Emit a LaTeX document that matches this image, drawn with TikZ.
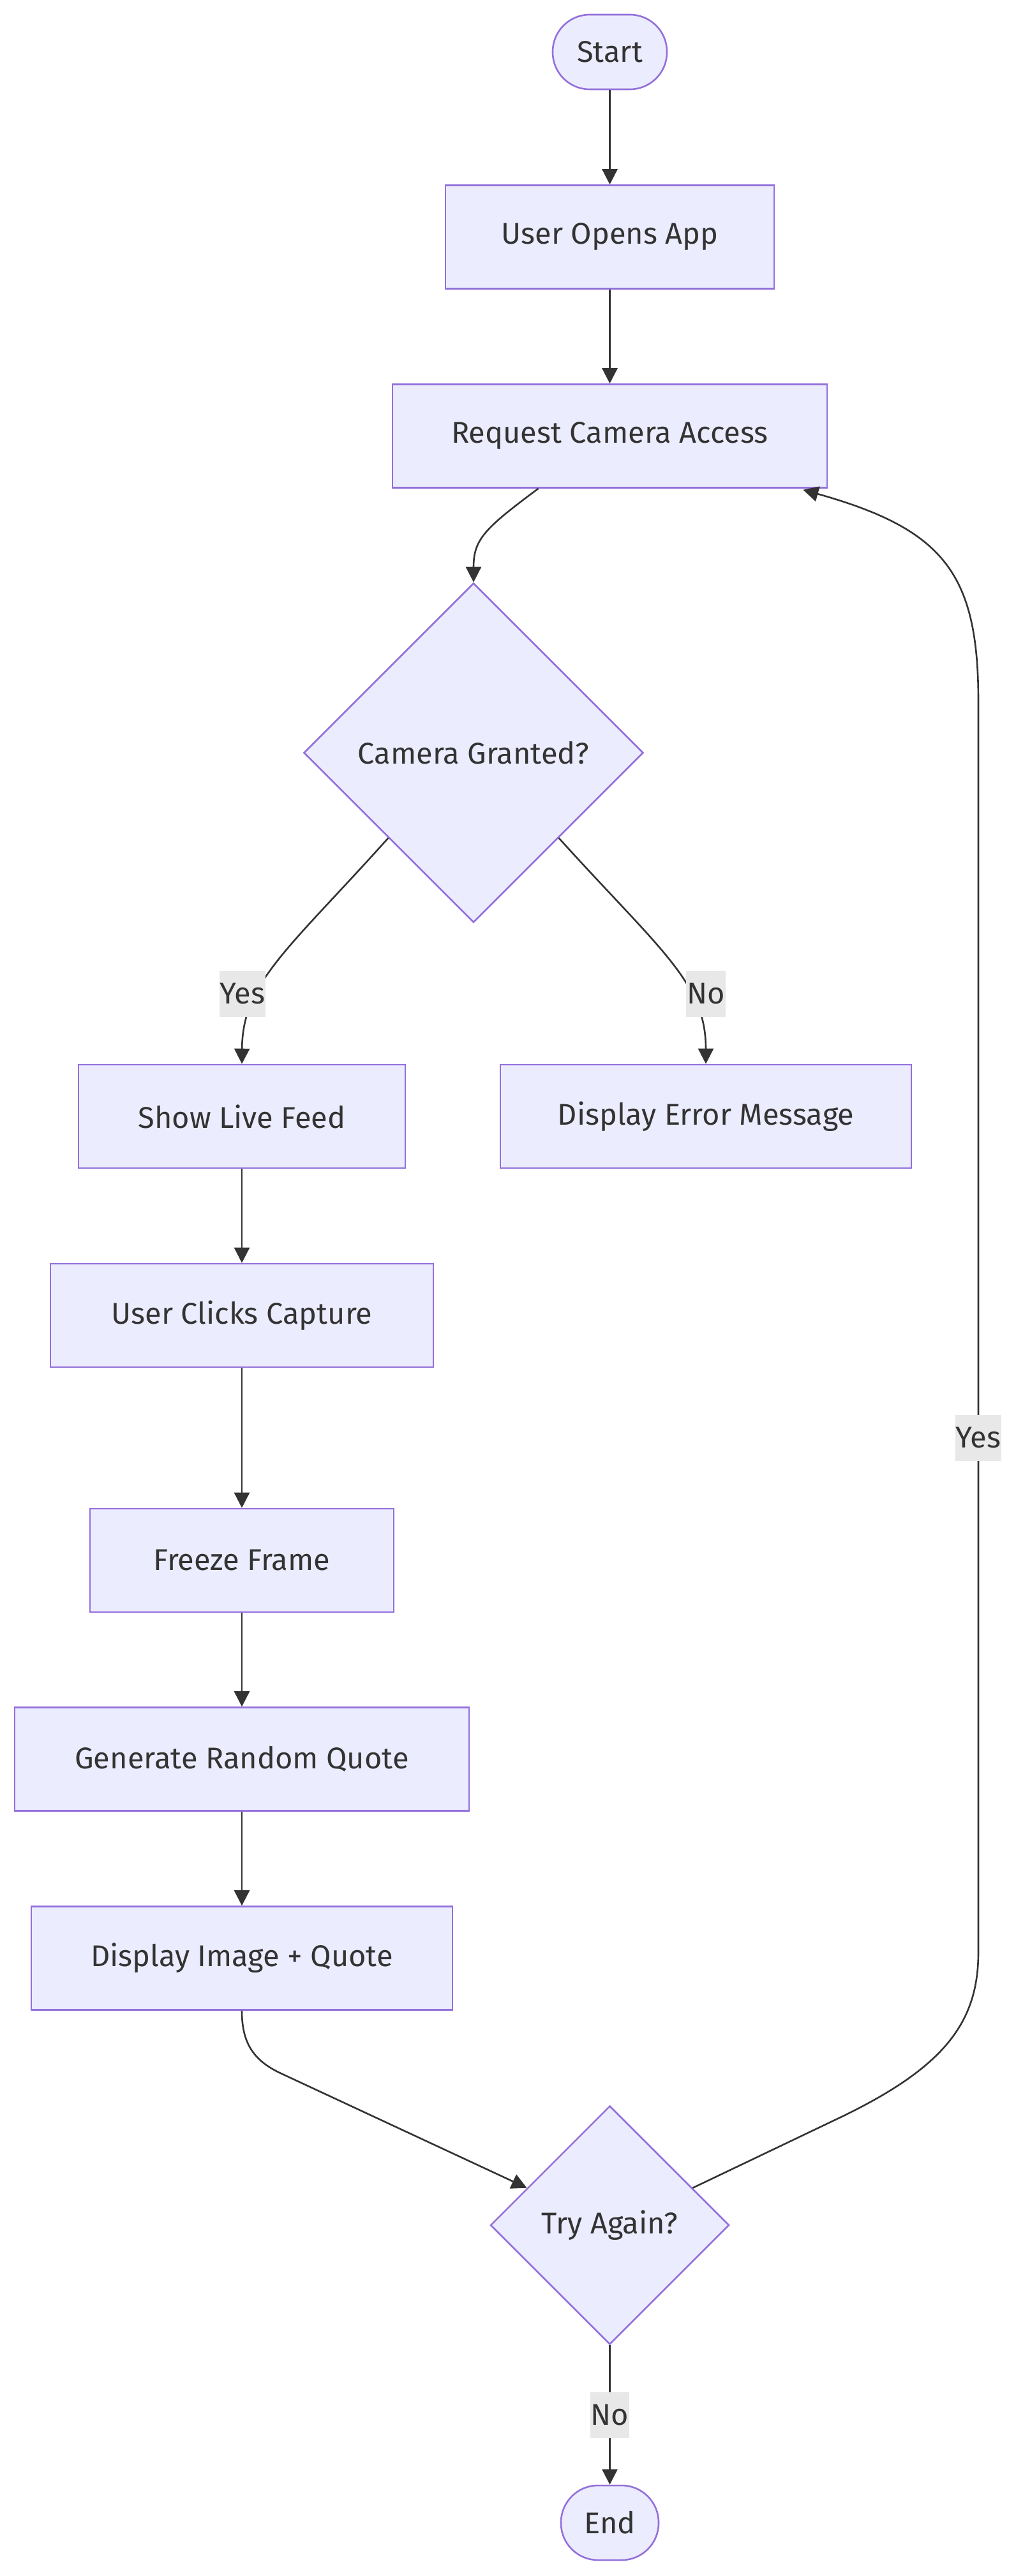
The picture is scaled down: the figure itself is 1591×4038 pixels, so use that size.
\documentclass[tikz,border=0pt]{standalone}
\usepackage{fontspec}
\setmainfont{Fira Sans}
\usetikzlibrary{shapes.geometric,arrows.meta,calc}
\definecolor{nodefill}{HTML}{ECECFF}
\definecolor{nodeline}{HTML}{9370DB}
\definecolor{edgecol}{HTML}{333333}
\definecolor{lblbg}{HTML}{E8E8E8}
\begin{document}
\begin{tikzpicture}[x=1pt,y=-1pt,
  every node/.style={font=\fontsize{47}{56}\selectfont, text=edgecol},
  box/.style={draw=nodeline, fill=nodefill, line width=2.6pt, minimum height=162pt, inner sep=0pt},
  term/.style={box, rounded corners=58pt, minimum height=117pt},
  decision/.style={draw=nodeline, fill=nodefill, line width=2.6pt, diamond, aspect=1, inner sep=0pt},
  flow/.style={draw=edgecol, line width=2.6pt, -{Triangle[length=24pt,width=24pt]}},
  lbl/.style={fill=lblbg, inner xsep=1pt, inner ysep=0pt, minimum height=72pt}
]
\useasboundingbox (0,0) rectangle (1591,4038);

\node[term, minimum width=179pt] (start) at (955.5,81.5) {Start};
\node[box, minimum width=515pt] (open) at (955.5,371.5) {User Opens App};
\node[box, minimum width=681pt] (req) at (955.5,683.5) {Request Camera Access};
\node[decision, minimum width=532pt, minimum height=532pt] (cam) at (742,1180) {Camera Granted?};
\node[box, minimum width=512pt] (live) at (379,1750) {Show Live Feed};
\node[box, minimum width=644pt] (err) at (1106,1750) {Display Error Message};
\node[box, minimum width=600pt] (click) at (379,2062) {User Clicks Capture};
\node[box, minimum width=476pt] (freeze) at (379,2446) {Freeze Frame};
\node[box, minimum width=712pt] (gen) at (379,2757.5) {Generate Random Quote};
\node[box, minimum width=660pt] (disp) at (379,3069.5) {Display Image + Quote};
\node[decision, minimum width=374pt, minimum height=374pt] (again) at (955.5,3488) {Try Again?};
\node[term, minimum width=153pt] (end) at (955.5,3954.5) {End};

\draw[flow] (start.south) -- (open.north);
\draw[flow] (open.south) -- (req.north);
\draw[flow] ($(req.south)+(-112,0)$) .. controls (760,828) and (742,845) .. (cam.north);
\draw[flow] (cam.south west) .. controls (450,1490) and (380,1540) .. (live.north);
\draw[flow] (cam.south east) .. controls (1035,1490) and (1106,1540) .. (err.north);
\draw[flow] (live.south) -- (click.north);
\draw[flow] (click.south) -- (freeze.north);
\draw[flow] (freeze.south) -- (gen.north);
\draw[flow] (gen.south) -- (disp.north);
\draw[flow] (disp.south) .. controls (379,3200) and (395,3229) .. (440,3250) -- ($(again.west)!0.31!(again.north)$);
\draw[flow] ($(again.east)!0.31!(again.north)$) -- (1319,3318) .. controls (1480,3240) and (1533,3170) .. (1533,3060) -- (1533,1100) .. controls (1533,900) and (1480,830) .. ($(req.south east)+(-39,2)$);
\draw[flow] (again.south) -- (end.north);

\node[lbl] (lyes1) at (380,1558) {Yes};
\node[lbl] (lno1) at (1106,1558) {No};
\node[lbl] (lyes2) at (1533,2254) {Yes};
\node[lbl] (lno2) at (955.5,3786) {No};
\end{tikzpicture}
\end{document}
